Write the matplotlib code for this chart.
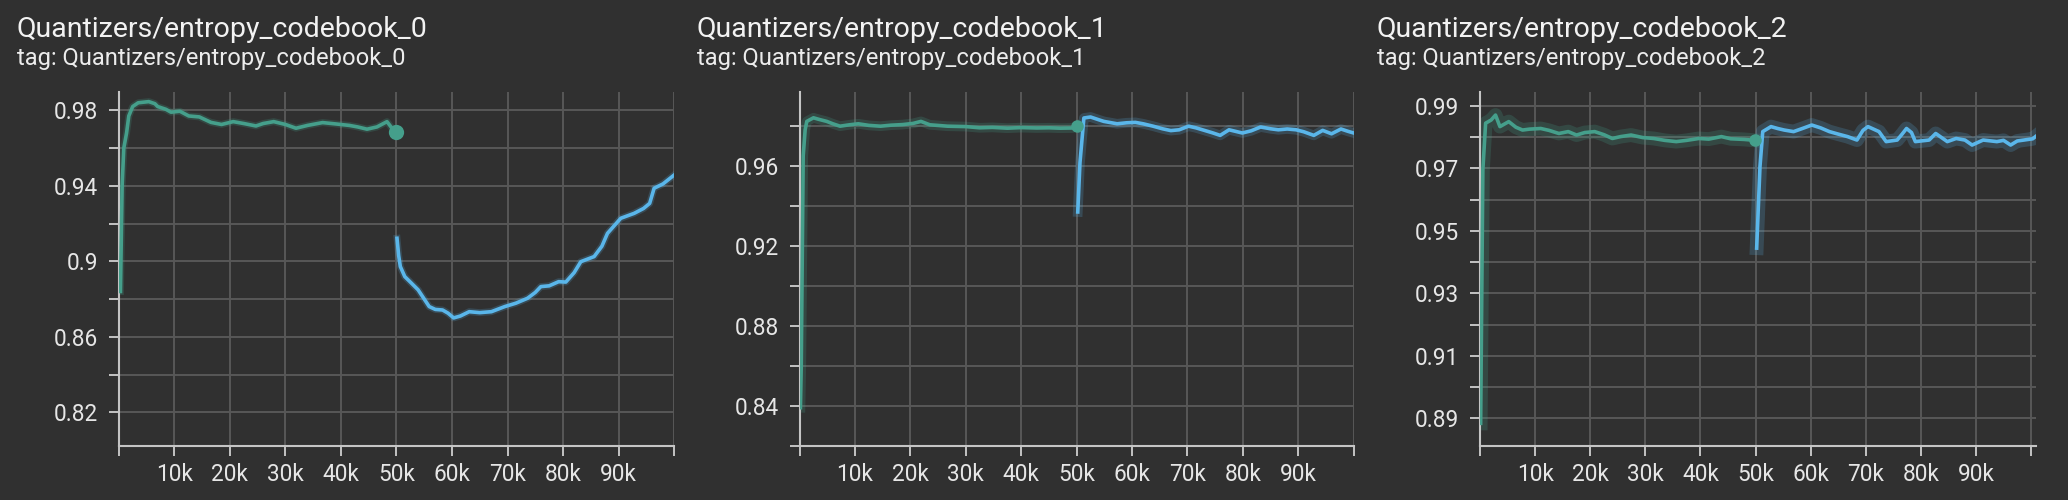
"""Three TensorBoard-style scalar panels: Quantizers/entropy_codebook_{0,1,2}."""

import matplotlib

matplotlib.use("Agg")
import matplotlib.pyplot as plt

# ---- data (steps in thousands) ----
tags = ["Quantizers/entropy_codebook_0", "Quantizers/entropy_codebook_1",
        "Quantizers/entropy_codebook_2"]

# codebook_0
cb0_green_x = [0.3, 0.6, 0.9, 1.4, 1.8, 2.5, 3.5, 5.4, 6.5, 7.0, 8.5, 9.4, 11.0, 12.6, 14.5,
               16.6, 18.5, 20.6, 22.5, 24.7, 26.0, 27.9, 30.0, 31.9, 34.0, 36.7, 39.0, 41.5,
               43.0, 44.7, 46.5, 48.3, 49.2, 50.0]
cb0_green_y = [0.884, 0.940, 0.960, 0.968, 0.977, 0.982, 0.984, 0.9846, 0.9835, 0.982, 0.9805,
               0.979, 0.9795, 0.977, 0.9765, 0.9736, 0.9725, 0.974, 0.973, 0.9717, 0.973, 0.974,
               0.9725, 0.9705, 0.972, 0.9735, 0.9728, 0.972, 0.9712, 0.970, 0.9712, 0.974,
               0.9705, 0.9687]
cb0_blue_x = [50.1, 50.4, 50.7, 51.5, 52.5, 53.9, 55.0, 55.9, 57.0, 58.3, 59.3, 60.3, 61.5,
              63.1, 65.0, 67.1, 69.5, 71.5, 73.6, 75.0, 76.0, 77.5, 79.2, 80.5, 82.0, 83.2,
              85.6, 87.0, 88.0, 90.4, 92.8, 94.5, 95.6, 96.4, 98.0, 100.0]
cb0_blue_y = [0.9122, 0.903, 0.8972, 0.8919, 0.889, 0.8849, 0.880, 0.876, 0.8745, 0.8742,
              0.8725, 0.870, 0.871, 0.8733, 0.8728, 0.8733, 0.876, 0.8778, 0.8804, 0.8835,
              0.8866, 0.887, 0.8892, 0.889, 0.894, 0.8998, 0.9025, 0.908, 0.9148, 0.9228,
              0.9254, 0.928, 0.9307, 0.9387, 0.941, 0.9457]

# codebook_1
cb1_green_x = [0.15, 0.3, 0.65, 1.0, 1.3, 2.5, 3.5, 4.9, 6.0, 7.3, 9.0, 10.6, 12.5, 14.6, 16.5,
               18.6, 20.5, 21.9, 23.5, 26.7, 30.0, 32.5, 34.8, 37.5, 40.0, 42.8, 45.0, 47.0,
               49.3, 50.0]
cb1_green_y = [0.839, 0.860, 0.965, 0.978, 0.9822, 0.984, 0.9832, 0.9822, 0.981, 0.9798,
               0.9805, 0.981, 0.9802, 0.9798, 0.9803, 0.9806, 0.9812, 0.9822, 0.9805, 0.9798,
               0.9796, 0.979, 0.9792, 0.9788, 0.9791, 0.9789, 0.979, 0.9788, 0.9789, 0.980]
cb1_blue_x = [50.2, 50.6, 51.3, 52.5, 54.0, 54.9, 57.3, 59.0, 60.6, 62.0, 63.8, 65.5, 67.0,
              68.5, 70.2, 71.5, 72.7, 74.5, 75.9, 77.5, 79.9, 81.5, 83.2, 85.0, 86.4, 88.0,
              89.6, 91.0, 92.8, 94.4, 96.0, 97.7, 99.0, 100.0]
cb1_blue_y = [0.9369, 0.9616, 0.9839, 0.9844, 0.983, 0.9822, 0.981, 0.9815, 0.9817, 0.981,
              0.9798, 0.9785, 0.9776, 0.978, 0.9798, 0.979, 0.978, 0.9765, 0.9752, 0.978,
              0.9764, 0.9775, 0.9794, 0.9785, 0.978, 0.9784, 0.978, 0.977, 0.9752, 0.9777,
              0.976, 0.9784, 0.9772, 0.9764]

# codebook_2
cb2_green_x = [0.1, 0.5, 1.0, 2.0, 2.8, 3.6, 5.2, 6.5, 7.7, 9.0, 11.0, 12.5, 14.3, 16.0, 17.5,
               19.0, 20.8, 22.5, 24.0, 25.5, 27.4, 29.5, 31.5, 33.5, 35.6, 37.5, 39.7, 41.5,
               43.8, 45.5, 47.9, 49.9]
cb2_green_y = [0.8884, 0.9696, 0.9845, 0.9855, 0.9871, 0.9834, 0.985, 0.9832, 0.9823, 0.9826,
               0.9828, 0.9822, 0.9812, 0.9818, 0.9807, 0.9815, 0.9818, 0.9808, 0.9796, 0.9802,
               0.9807, 0.9799, 0.9796, 0.979, 0.9786, 0.979, 0.9796, 0.9794, 0.9802, 0.9795,
               0.9793, 0.979]
cb2_blue_x = [50.2, 50.8, 51.3, 52.8, 54.0, 55.2, 56.9, 58.5, 60.2, 61.8, 63.4, 65.0, 66.7,
              68.4, 69.5, 70.4, 72.4, 73.7, 75.7, 76.6, 77.4, 78.3, 79.0, 81.5, 82.7, 84.8,
              86.4, 88.0, 89.3, 91.3, 93.8, 95.0, 96.3, 97.5, 98.7, 100.3, 100.8]
cb2_blue_y = [0.9445, 0.9706, 0.9818, 0.9834, 0.9828, 0.9823, 0.9818, 0.9828, 0.9839, 0.983,
              0.9818, 0.981, 0.9802, 0.9791, 0.9822, 0.9834, 0.9818, 0.9786, 0.9791, 0.981,
              0.9828, 0.9815, 0.9786, 0.9791, 0.9812, 0.9786, 0.9796, 0.9791, 0.9775, 0.9791,
              0.9786, 0.979, 0.9775, 0.9788, 0.9791, 0.9795, 0.9802]

x_ticks = [0, 10, 20, 30, 40, 50, 60, 70, 80, 90, 100]
x_labels = ["", "10k", "20k", "30k", "40k", "50k", "60k", "70k", "80k", "90k", ""]

y_ticks = [
    [0.82, 0.84, 0.86, 0.88, 0.90, 0.92, 0.94, 0.96, 0.98],
    [0.82, 0.84, 0.86, 0.88, 0.90, 0.92, 0.94, 0.96, 0.98],
    [0.89, 0.90, 0.91, 0.92, 0.93, 0.94, 0.95, 0.96, 0.97, 0.98, 0.99],
]
y_labels = [
    ["0.82", "", "0.86", "", "0.9", "", "0.94", "", "0.98"],
    ["", "0.84", "", "0.88", "", "0.92", "", "0.96", ""],
    ["0.89", "", "0.91", "", "0.93", "", "0.95", "", "0.97", "", "0.99"],
]

# ---- style ----
BG = "#303030"
GREEN = "#459f8b"
BLUE = "#5ab6ea"
GRID = "#585858"
AXIS = "#c4c4c4"
TEXT = "#e6e6e6"
plt.rcParams["font.family"] = ["Roboto", "DejaVu Sans"]

W, H = 2068, 500
fig = plt.figure(figsize=(W / 100, H / 100), dpi=100, facecolor=BG)

# axes boxes in pixels: (left, right); title x
boxes = [(118.8, 674.1, 17), (799.6, 1354.1, 697), (1480.1, 2036.0, 1377)]
top_px, bot_px = 92, 445.7
xlims = [(0.3, 100.0), (0.0, 100.07), (0.0, 100.9)]
ylims = [(0.8023, 0.9897), (0.82204, 0.9969), (0.88125, 0.99448)]
halo = [5, 7, 10]

series = [
    (cb0_green_x, cb0_green_y, cb0_blue_x, cb0_blue_y),
    (cb1_green_x, cb1_green_y, cb1_blue_x, cb1_blue_y),
    (cb2_green_x, cb2_green_y, cb2_blue_x, cb2_blue_y),
]

for i, (l, r, tx) in enumerate(boxes):
    ax = fig.add_axes([l / W, 1 - bot_px / H, (r - l) / W, (bot_px - top_px) / H])
    ax.set_facecolor(BG)
    gx, gy, bx, by = series[i]

    # faint raw band, then smoothed line
    ax.plot(gx, gy, color=GREEN, lw=halo[i], alpha=0.22, solid_joinstyle="round", zorder=2)
    ax.plot(bx, by, color=BLUE, lw=halo[i], alpha=0.2, solid_joinstyle="round", zorder=2)
    ax.plot(gx, gy, color=GREEN, lw=2.6, zorder=3)
    ax.plot(bx, by, color=BLUE, lw=2.6, zorder=3)
    ax.plot([gx[-1]], [gy[-1]], "o", color=GREEN, ms=11 if i == 0 else 9, mec="none", zorder=4)

    ax.set_xlim(*xlims[i])
    ax.set_ylim(*ylims[i])
    ax.set_xticks(x_ticks)
    ax.set_xticklabels(x_labels)
    ax.set_yticks(y_ticks[i])
    ax.set_yticklabels(y_labels[i])
    ax.grid(True, color=GRID, lw=1.4, zorder=1)
    ax.set_axisbelow(True)

    for s in ("top", "right"):
        ax.spines[s].set_visible(False)
    for s in ("left", "bottom"):
        ax.spines[s].set_color(AXIS)
        ax.spines[s].set_linewidth(1.5)
    ax.tick_params(axis="both", colors=AXIS, labelcolor=TEXT, labelsize=16.3,
                   length=7, width=1.4)
    ax.tick_params(axis="y", pad=8)
    ax.tick_params(axis="x", pad=5.5)

    fig.text(tx / W, 1 - 36.7 / H, tags[i], color="#f2f2f2", fontsize=20.5, va="baseline")
    fig.text(tx / W, 1 - 65 / H, "tag: " + tags[i], color="#ececec", fontsize=17.1,
             va="baseline")

fig.savefig("out.png", dpi=100, facecolor=BG)
